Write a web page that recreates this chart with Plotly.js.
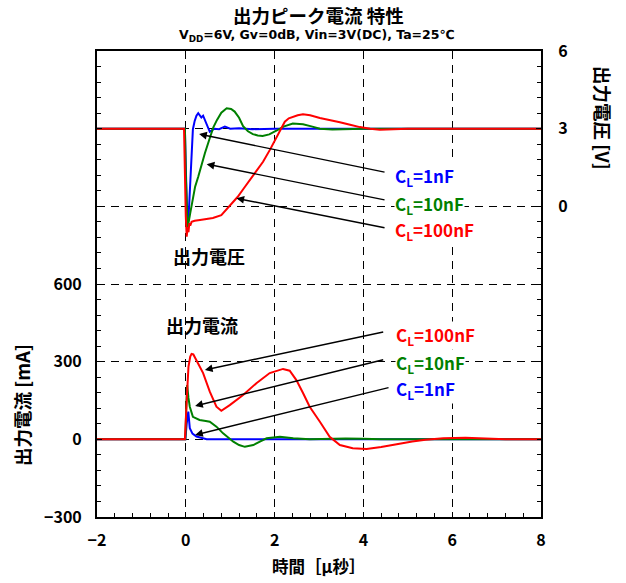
<!DOCTYPE html>
<html>
<head>
<meta charset="utf-8">
<script src="https://cdn.plot.ly/plotly-3.0.1.min.js"></script>
<style>html,body{margin:0;padding:0;background:#fff;}#chart{width:626px;height:583px;}</style>
</head>
<body>
<div id="chart"></div>
<script>
// ---- Output voltage [V] (right axis) ----
const tV1 = [-2, -0.5, -0.02, 0.0, 0.03, 0.06, 0.09, 0.13, 0.16, 0.2, 0.24, 0.28, 0.32, 0.35, 0.39, 0.43, 0.47, 0.54, 0.6, 0.65, 0.75, 0.88, 1.0, 1.2, 1.5, 2, 3, 5, 8];
const v1nF = [3, 3, 3, 1.5, -0.3, -0.5, 0.66, 1.95, 2.98, 3.3, 3.5, 3.6, 3.52, 3.43, 3.5, 3.35, 3.17, 2.88, 2.95, 3.0, 2.98, 3.08, 3.0, 3.02, 2.98, 3.0, 3.0, 3.0, 3.0];

const tV10 = [-2, -0.5, -0.02, 0.0, 0.04, 0.1, 0.17, 0.21, 0.28, 0.32, 0.36, 0.43, 0.55, 0.62, 0.7, 0.8, 0.92, 1.02, 1.1, 1.2, 1.29, 1.4, 1.51, 1.62, 1.73, 1.88, 2.04, 2.2, 2.41, 2.64, 2.85, 3.02, 3.3, 3.6, 4, 5, 8];
const v10nF = [3, 3, 3, 1.2, -0.85, -0.26, 0.37, 0.76, 1.14, 1.4, 1.66, 2.05, 2.69, 3.05, 3.33, 3.62, 3.79, 3.76, 3.66, 3.42, 3.1, 2.9, 2.79, 2.74, 2.72, 2.78, 2.92, 3.08, 3.2, 3.17, 3.08, 3.0, 2.97, 2.98, 3.0, 3.0, 3.0];

const tV100 = [-2, -0.5, -0.04, 0.0, 0.02, 0.04, 0.06, 0.08, 0.1, 0.13, 0.2, 0.32, 0.45, 0.61, 0.8, 0.9, 0.99, 1.17, 1.3, 1.44, 1.6, 1.74, 1.9, 2.05, 2.15, 2.23, 2.32, 2.41, 2.52, 2.64, 2.8, 3.02, 3.25, 3.47, 3.7, 3.92, 4.15, 4.37, 5, 6, 8];
const v100nF = [3, 3, 3, -0.4, -1.17, -0.8, -1.0, -0.65, -0.75, -0.6, -0.56, -0.53, -0.5, -0.45, -0.34, -0.15, 0.05, 0.37, 0.68, 1.01, 1.38, 1.72, 2.2, 2.69, 3.0, 3.27, 3.4, 3.46, 3.52, 3.56, 3.52, 3.41, 3.34, 3.25, 3.15, 3.06, 3.0, 2.96, 3.0, 3.0, 3.0];

// ---- Output current [mA] (left axis) ----
const tI1 = [-2, -0.5, -0.01, 0.02, 0.056, 0.09, 0.15, 0.24, 0.35, 0.47, 1, 2, 4, 6, 8];
const i1nF = [0, 0, 0, 60, 107, 43, 22, 11, 5, 0, 0, 0, 0, 0, 0];

const tI10 = [-2, -0.5, -0.01, 0.01, 0.03, 0.06, 0.09, 0.16, 0.31, 0.45, 0.54, 0.69, 0.84, 1.07, 1.2, 1.33, 1.52, 1.68, 1.82, 2.12, 2.42, 2.79, 3.2, 3.6, 4.0, 4.4, 6, 8];
const i10nF = [0, 0, 0, 120, 210, 160, 126, 87, 75, 71, 68, 49, 23, -9, -22, -29, -22, -8, 4, 10, 4, 0, 2, 3, 2, 0, 0, 0];

const tI100 = [-2, -0.5, -0.02, 0.02, 0.06, 0.1, 0.13, 0.17, 0.24, 0.39, 0.54, 0.69, 0.8, 0.99, 1.29, 1.59, 1.89, 2.19, 2.34, 2.49, 2.64, 2.79, 3.02, 3.24, 3.47, 3.76, 4.07, 4.4, 4.75, 5.1, 5.4, 5.8, 6.3, 6.8, 7.2, 8];
const i100nF = [0, 0, 0, 150, 280, 320, 330, 328, 306, 256, 184, 126, 110, 132, 171, 217, 256, 272, 265, 229, 179, 126, 68, 10, -22, -34, -37, -30, -19, -8, -2, 4, 6, 4, 0, 0];

const xTicks = [-2, 0, 2, 4, 6, 8];
const yTicksI = [-300, 0, 300, 600, 900, 1200, 1500];
const yTextI = ['\u2212300', '0', '300', '600', '', '', ''];
const yTicksV = [0, 3, 6];
const yTextV = ['0', '3', '6'];

const FONT = 'Noto Sans CJK JP, Noto Sans, sans-serif';
const LATIN = 'DejaVu Sans, Noto Sans CJK JP, sans-serif';
const BLUE = '#0000ff', GREEN = '#008000', RED = '#ff0000';

const traces = [
  {x: tV1, y: v1nF, yaxis: 'y2', mode: 'lines', line: {color: BLUE, width: 2}},
  {x: tV10, y: v10nF, yaxis: 'y2', mode: 'lines', line: {color: GREEN, width: 2}},
  {x: tV100, y: v100nF, yaxis: 'y2', mode: 'lines', line: {color: RED, width: 2}},
  {x: tI1, y: i1nF, yaxis: 'y', mode: 'lines', line: {color: BLUE, width: 2}},
  {x: tI10, y: i10nF, yaxis: 'y', mode: 'lines', line: {color: GREEN, width: 2}},
  {x: tI100, y: i100nF, yaxis: 'y', mode: 'lines', line: {color: RED, width: 2}}
];

function px2paperX(px) { return (px - 97) / 444; }
function px2paperY(py) { return (517 - py) / 466; }

function label(text, px, py, color, size, opts, fam) {
  return Object.assign({
    xref: 'paper', yref: 'paper', x: px2paperX(px), y: px2paperY(py),
    text: text, showarrow: false, xanchor: 'center', yanchor: 'middle',
    font: {family: fam || FONT, size: size, color: color, weight: 'bold'}
  }, opts || {});
}
function arrow(yref, hx, hy, tx, ty) {
  return {xref: 'x', yref: yref, axref: 'x', ayref: yref, x: hx, y: hy, ax: tx, ay: ty,
    text: '', showarrow: true, arrowhead: 2, arrowsize: 1.1, arrowwidth: 1.4, arrowcolor: '#000', standoff: 0, startstandoff: 0};
}
const bg = {bgcolor: '#ffffff', xanchor: 'left', borderpad: 0};

const annotations = [
  label('出力ピーク電流 特性', 318, 15, '#000', 18.5),
  label('V<sub>DD</sub>=6V, Gv=0dB, Vin=3V(DC), Ta=25℃', 317, 36, '#000', 12.5, {}, LATIN),
  label('出力電圧', 209, 256, '#000', 18),
  label('出力電流', 202, 325, '#000', 18),
  label('時間［μ秒］', 318, 566, '#000', 16.5),
  label('出力電流 [mA]', 22, 405, '#000', 18.5, {textangle: -90}),
  label('出力電圧 [V]', 603, 118, '#000', 18.5, {textangle: 90}),
  arrow('y2', 0.30, 2.79, 4.51, 1.31),
  arrow('y2', 0.47, 1.63, 4.51, 0.24),
  arrow('y2', 1.14, 0.31, 4.51, -0.84),
  arrow('y', 0.43, 268, 4.48, 416),
  arrow('y', 0.21, 129, 4.48, 309),
  arrow('y', 0.21, 17, 4.60, 201),
  label('C<sub>L</sub>=1nF', 394, 176, BLUE, 17, bg),
  label('C<sub>L</sub>=10nF', 394, 204, GREEN, 17, bg),
  label('C<sub>L</sub>=100nF', 394, 230, RED, 17, bg),
  label('C<sub>L</sub>=100nF', 395, 335, RED, 17, bg),
  label('C<sub>L</sub>=10nF', 395, 363, GREEN, 17, bg),
  label('C<sub>L</sub>=1nF', 395, 390, BLUE, 17, bg)
];

const tickFont = {family: FONT, size: 16, color: '#000', weight: 'bold'};

const layout = {
  width: 626, height: 583,
  margin: {l: 97, r: 85, t: 51, b: 66, pad: 0},
  paper_bgcolor: '#fff', plot_bgcolor: '#fff',
  showlegend: false,
  xaxis: {
    range: [-2, 8], tickmode: 'array', tickvals: xTicks, ticktext: xTicks.map(v => v < 0 ? '\u2212' + Math.abs(v) : String(v)),
    ticks: 'inside', ticklen: 5, tickcolor: '#000', tickwidth: 1,
    showline: true, linecolor: '#000', linewidth: 2, mirror: true,
    showgrid: true, gridcolor: '#000', gridwidth: 1, griddash: '8px,6px',
    zeroline: false, tickfont: tickFont, ticklabelstandoff: 8,
    minor: {tickmode: 'linear', tick0: 0, dtick: 0.4, ticks: 'inside', ticklen: 4, tickcolor: '#000', showgrid: false}
  },
  yaxis: {
    range: [-300, 1500], tickmode: 'array', tickvals: yTicksI, ticktext: yTextI,
    ticks: 'inside', ticklen: 5, tickcolor: '#000',
    showline: true, linecolor: '#000', linewidth: 2,
    showgrid: true, gridcolor: '#000', gridwidth: 1, griddash: '8px,6px',
    zeroline: false, tickfont: tickFont, ticklabelstandoff: 10,
    minor: {tickmode: 'linear', tick0: 0, dtick: 60, ticks: 'inside', ticklen: 4, tickcolor: '#000', showgrid: false}
  },
  yaxis2: {
    overlaying: 'y', side: 'right', anchor: 'x',
    range: [-12, 6], tickmode: 'array', tickvals: yTicksV, ticktext: yTextV,
    ticks: 'inside', ticklen: 5, tickcolor: '#000',
    showline: true, linecolor: '#000', linewidth: 2,
    showgrid: false, zeroline: false, tickfont: tickFont, ticklabelstandoff: 12,
    minor: {tickmode: 'linear', tick0: 0, dtick: 0.6, ticks: 'inside', ticklen: 4, tickcolor: '#000', showgrid: false}
  },
  annotations: annotations
};

Plotly.newPlot('chart', traces, layout, {displayModeBar: false, staticPlot: true});
</script>
</body>
</html>
